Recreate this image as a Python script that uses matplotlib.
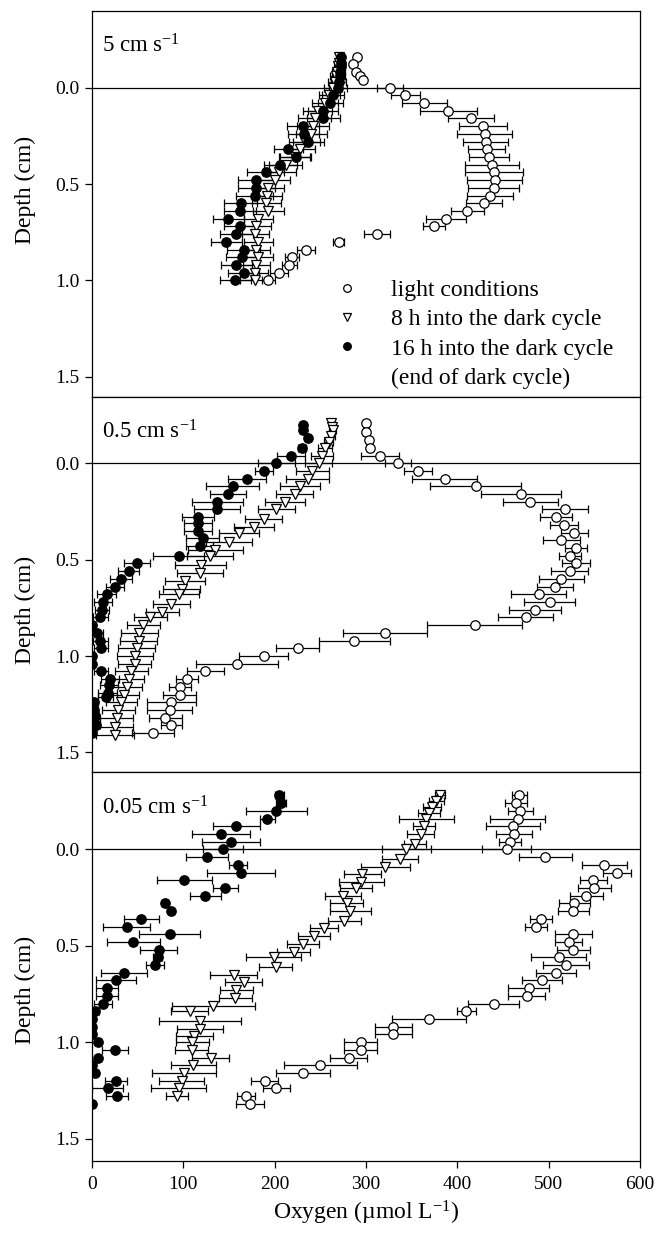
import matplotlib
matplotlib.use("Agg")
import matplotlib.pyplot as plt
from matplotlib.lines import Line2D

plt.rcParams['font.family'] = ['Liberation Serif', 'DejaVu Serif']
plt.rcParams['mathtext.fontset'] = 'custom'
plt.rcParams['mathtext.rm'] = 'Liberation Serif'
plt.rcParams['mathtext.it'] = 'Liberation Serif:italic'

# ---------------- data ----------------
panel_labels = ["5 cm s$^{-1}$", "0.5 cm s$^{-1}$", "0.05 cm s$^{-1}$"]
series_labels = ["light conditions", "8 h into the dark cycle",
                 "16 h into the dark cycle", "(end of dark cycle)"]
x_ticks = [0, 100, 200, 300, 400, 500, 600]
y_ticks = [0.0, 0.5, 1.0, 1.5]
y_ticklabels = ["0.0", "0.5", "1.0", "1.5"]

# Panel 1: 5 cm s-1
p1_light_depth = [-0.16, -0.12, -0.08, -0.06, -0.04, 0.00, 0.04, 0.08, 0.12, 0.16, 0.20, 0.24, 0.28, 0.32,
                  0.36, 0.40, 0.44, 0.48, 0.52, 0.56, 0.60, 0.64, 0.68, 0.72, 0.76, 0.80, 0.84, 0.88,
                  0.92, 0.96, 1.00]
p1_light_o2 = [290, 286, 289, 293, 297, 326, 343, 364, 390, 415, 428, 430, 431, 432,
               435, 438, 440, 441, 440, 436, 429, 411, 388, 374, 312, 270, 234, 219,
               216, 205, 193]
p1_light_err = [2, 2, 2, 2, 2, 14, 16, 25, 31, 25, 26, 30, 25, 20,
                22, 30, 32, 30, 28, 25, 20, 18, 22, 12, 14, 6, 10, 8,
                8, 10, 7]

p1_d8_depth = [-0.16, -0.13, -0.11, -0.08, -0.06, -0.03, 0.00, 0.04, 0.08, 0.12, 0.16, 0.20, 0.24, 0.28,
               0.32, 0.36, 0.40, 0.44, 0.48, 0.52, 0.56, 0.60, 0.64, 0.68, 0.72, 0.76, 0.80, 0.84,
               0.88, 0.92, 0.96, 1.00]
p1_d8_o2 = [270, 270, 269, 268, 267, 266, 264, 260, 255, 247, 244, 242, 240, 233,
            228, 222, 212, 205, 200, 193, 192, 191, 193, 182, 180, 179, 182, 180,
            182, 180, 178, 178]
p1_d8_err = [3, 3, 4, 5, 6, 8, 10, 12, 14, 16, 18, 18, 17, 17,
             16, 17, 18, 18, 17, 17, 16, 16, 17, 16, 16, 15, 16, 15,
             16, 15, 15, 16]

p1_d16_depth = [-0.16, -0.13, -0.11, -0.08, -0.06, -0.03, 0.00, 0.04, 0.08, 0.12, 0.16, 0.20, 0.24, 0.28,
                0.32, 0.36, 0.40, 0.44, 0.48, 0.52, 0.56, 0.60, 0.64, 0.68, 0.72, 0.76, 0.80, 0.84,
                0.88, 0.92, 0.96, 1.00]
p1_d16_o2 = [273, 273, 273, 272, 271, 270, 269, 264, 261, 253, 253, 231, 232, 237,
             215, 223, 206, 190, 180, 180, 178, 163, 162, 149, 162, 158, 147, 166,
             164, 158, 166, 157]
p1_d16_err = [3, 3, 4, 5, 6, 8, 10, 12, 14, 16, 18, 17, 17, 17,
              16, 17, 18, 20, 20, 20, 20, 18, 18, 17, 18, 18, 17, 18,
              17, 17, 17, 17]

# Panel 2: 0.5 cm s-1
p2_light_depth = [-0.21, -0.16, -0.12, -0.08, -0.04, 0.00, 0.04, 0.08, 0.12, 0.16, 0.20, 0.24, 0.28, 0.32,
                  0.36, 0.40, 0.44, 0.48, 0.52, 0.56, 0.60, 0.64, 0.68, 0.72, 0.76, 0.80, 0.84, 0.88,
                  0.92, 0.96, 1.00, 1.04, 1.08, 1.12, 1.16, 1.20, 1.24, 1.28, 1.32, 1.36, 1.40]
p2_light_o2 = [300, 300, 303, 304, 315, 335, 357, 386, 420, 470, 480, 518, 508, 517,
               528, 514, 530, 523, 530, 523, 514, 507, 489, 501, 485, 475, 419, 321,
               287, 225, 188, 159, 124, 104, 96, 96, 87, 85, 80, 87, 67]
p2_light_err = [3, 3, 3, 3, 21, 14, 15, 36, 50, 44, 30, 25, 18, 15,
                15, 20, 12, 12, 15, 20, 25, 20, 30, 28, 28, 30, 52, 46,
                39, 23, 27, 45, 20, 12, 12, 18, 27, 25, 18, 12, 23]

p2_d8_depth = [-0.21, -0.19, -0.17, -0.14, -0.11, -0.08, -0.04, 0.00, 0.04, 0.08, 0.12, 0.16, 0.20, 0.24,
               0.29, 0.33, 0.36, 0.41, 0.45, 0.48, 0.53, 0.57, 0.61, 0.65, 0.68, 0.73, 0.77, 0.80,
               0.84, 0.88, 0.92, 0.96, 1.00, 1.04, 1.08, 1.12, 1.16, 1.20, 1.24, 1.28, 1.32, 1.37, 1.41]
p2_d8_o2 = [262, 263, 264, 262, 259, 255, 252, 248, 241, 236, 228, 222, 211, 202,
            188, 177, 161, 150, 135, 129, 119, 118, 102, 98, 95, 87, 77, 64,
            56, 52, 51, 49, 47, 47, 43, 40, 38, 35, 32, 29, 27, 25, 25]
p2_d8_err = [3, 3, 3, 4, 5, 8, 12, 15, 18, 24, 22, 20, 22, 20,
             20, 22, 22, 25, 30, 25, 28, 25, 22, 20, 22, 20, 18, 18,
             18, 20, 20, 20, 20, 18, 18, 17, 17, 16, 17, 18, 18, 20, 21]

p2_d16_depth = [-0.20, -0.17, -0.13, -0.08, -0.04, 0.00, 0.04, 0.08, 0.12, 0.16, 0.20, 0.24, 0.28, 0.31,
                0.35, 0.39, 0.43, 0.48, 0.52, 0.56, 0.60, 0.64, 0.68, 0.72, 0.76, 0.80, 0.84, 0.88,
                0.92, 0.96, 1.00, 1.04, 1.08, 1.12, 1.15, 1.19, 1.21, 1.24, 1.28, 1.31, 1.36, 1.40]
p2_d16_o2 = [231, 231, 236, 230, 218, 202, 188, 170, 154, 149, 137, 137, 116, 116,
             116, 121, 118, 95, 49, 40, 32, 25, 16, 12, 11, 9, 0, 6,
             9, 10, 0, 0, 10, 20, 19, 17, 15, 2, 2, 3, 4, 0]
p2_d16_err = [3, 3, 3, 4, 15, 20, 10, 21, 29, 20, 28, 25, 18, 15,
              15, 18, 15, 28, 14, 12, 12, 10, 10, 10, 8, 8, 4, 6,
              8, 8, 3, 3, 8, 10, 10, 10, 8, 5, 5, 5, 5, 3]

# Panel 3: 0.05 cm s-1
p3_light_depth = [-0.28, -0.24, -0.20, -0.16, -0.12, -0.08, -0.04, 0.00, 0.04, 0.08, 0.12, 0.16, 0.20, 0.24,
                  0.28, 0.32, 0.36, 0.40, 0.44, 0.48, 0.52, 0.56, 0.60, 0.64, 0.68, 0.72, 0.76, 0.80,
                  0.84, 0.88, 0.92, 0.96, 1.00, 1.04, 1.08, 1.12, 1.16, 1.20, 1.24, 1.28, 1.32]
p3_light_o2 = [468, 464, 469, 466, 461, 462, 458, 454, 496, 561, 575, 549, 550, 541,
               528, 527, 492, 486, 527, 522, 527, 511, 519, 508, 493, 478, 476, 440,
               410, 369, 330, 330, 294, 294, 281, 250, 231, 189, 202, 169, 173]
p3_light_err = [8, 12, 14, 30, 30, 20, 12, 27, 29, 25, 15, 15, 18, 18,
                17, 17, 12, 12, 20, 15, 18, 30, 25, 22, 22, 22, 20, 28,
                10, 40, 20, 20, 18, 18, 20, 40, 30, 15, 15, 10, 15]

p3_d8_depth = [-0.28, -0.25, -0.22, -0.19, -0.16, -0.12, -0.08, -0.03, 0.00, 0.05, 0.09, 0.13, 0.17, 0.20,
               0.24, 0.28, 0.32, 0.37, 0.41, 0.45, 0.49, 0.53, 0.56, 0.61, 0.65, 0.69, 0.73, 0.77,
               0.81, 0.84, 0.89, 0.93, 0.97, 1.00, 1.04, 1.08, 1.12, 1.16, 1.20, 1.24, 1.28]
p3_d8_o2 = [381, 377, 372, 369, 366, 364, 360, 354, 344, 337, 321, 296, 295, 289,
            275, 279, 283, 276, 254, 243, 231, 221, 199, 201, 155, 166, 158, 157,
            133, 107, 118, 118, 112, 110, 109, 130, 111, 101, 98, 95, 93]
p3_d8_err = [5, 8, 10, 12, 30, 12, 15, 12, 27, 20, 27, 20, 25, 18,
             20, 18, 22, 18, 15, 18, 18, 18, 30, 18, 26, 20, 18, 18,
             45, 20, 45, 25, 20, 18, 18, 20, 25, 35, 25, 30, 12]

p3_d16_depth = [-0.28, -0.24, -0.20, -0.16, -0.12, -0.08, -0.04, 0.00, 0.04, 0.08, 0.12, 0.16, 0.20, 0.24,
                0.28, 0.32, 0.36, 0.40, 0.44, 0.48, 0.52, 0.56, 0.60, 0.64, 0.68, 0.72, 0.76, 0.80,
                0.84, 0.88, 0.92, 0.96, 1.00, 1.04, 1.08, 1.12, 1.16, 1.20, 1.24, 1.28, 1.32]
p3_d16_o2 = [205, 207, 202, 192, 158, 141, 152, 143, 126, 160, 163, 101, 146, 124,
             80, 87, 54, 38, 85, 45, 73, 72, 69, 35, 26, 16, 16, 12,
             3, 0.5, 0, 0.5, 7, 25, 7, 0.5, 3, 26, 17, 27, 0.5]
p3_d16_err = [5, 5, 33, 8, 26, 32, 32, 22, 23, 10, 37, 30, 14, 17,
              3, 3, 19, 26, 33, 29, 20, 5, 10, 25, 22, 12, 12, 10,
              5, 3, 3, 3, 3, 14, 3, 3, 3, 12, 17, 12, 3]

panels = [
    dict(light=(p1_light_o2, p1_light_depth, p1_light_err),
         d8=(p1_d8_o2, p1_d8_depth, p1_d8_err),
         d16=(p1_d16_o2, p1_d16_depth, p1_d16_err)),
    dict(light=(p2_light_o2, p2_light_depth, p2_light_err),
         d8=(p2_d8_o2, p2_d8_depth, p2_d8_err),
         d16=(p2_d16_o2, p2_d16_depth, p2_d16_err)),
    dict(light=(p3_light_o2, p3_light_depth, p3_light_err),
         d8=(p3_d8_o2, p3_d8_depth, p3_d8_err),
         d16=(p3_d16_o2, p3_d16_depth, p3_d16_err)),
]

# ---------------- layout ----------------
W, H = 658, 1234
fig = plt.figure(figsize=(W / 100, H / 100), dpi=100)
left_px, right_px = 92, 640
panel_px = [(10.7, 396.7), (396.7, 772.3), (772.3, 1160.7)]
ylims = [(1.603, -0.399), (1.603, -0.345), (1.615, -0.40)]
ylabel_y = [0.5355, 0.432, 0.4395]
label_off_px = 42

TICK_FS = 14
LAB_FS = 17

axes = []
for i, (top, bot) in enumerate(panel_px):
    ax = fig.add_axes([left_px / W, 1 - bot / H, (right_px - left_px) / W, (bot - top) / H])
    axes.append(ax)
    d = panels[i]
    common = dict(ecolor='black', elinewidth=0.9, capsize=3, capthick=0.9,
                  markersize=6.8, markeredgewidth=0.9, markeredgecolor='black')
    o2, dep, err = d['light']
    ax.errorbar(o2, dep, xerr=err, fmt='o', markerfacecolor='white', **common)
    o2, dep, err = d['d8']
    ax.errorbar(o2, dep, xerr=err, fmt='v', markerfacecolor='white', **common)
    o2, dep, err = d['d16']
    ax.errorbar(o2, dep, xerr=err, fmt='o', markerfacecolor='black', **common)

    ax.axhline(0, color='black', lw=0.9, zorder=0.5)
    ax.set_xlim(0, 600)
    ax.set_ylim(*ylims[i])
    ax.set_yticks(y_ticks)
    ax.set_yticklabels(y_ticklabels, fontsize=TICK_FS)
    ax.tick_params(axis='y', direction='out', length=5, width=0.9, pad=4)
    ax.set_ylabel("Depth (cm)", fontsize=LAB_FS)
    ax.yaxis.set_label_coords(-0.103, ylabel_y[i])
    for s in ax.spines.values():
        s.set_linewidth(0.9)
    if i < 2:
        ax.set_xticks([])
    else:
        ax.set_xticks(x_ticks)
        ax.set_xticklabels([str(t) for t in x_ticks], fontsize=TICK_FS)
        ax.tick_params(axis='x', direction='out', length=5, width=0.9, pad=6)
        ax.set_xlabel("Oxygen (\u00b5mol L$^{-1}$)", fontsize=LAB_FS, labelpad=4)
    hpx = bot - top
    ax.text(10 / (right_px - left_px), 1 - label_off_px / hpx, panel_labels[i],
            transform=ax.transAxes, fontsize=16.5, ha='left', va='baseline')

# legend in panel 1
handles = [
    Line2D([], [], marker='o', linestyle='none', markerfacecolor='white', markeredgecolor='black', markersize=5.5, markeredgewidth=0.9),
    Line2D([], [], marker='v', linestyle='none', markerfacecolor='white', markeredgecolor='black', markersize=5.5, markeredgewidth=0.9),
    Line2D([], [], marker='o', linestyle='none', markerfacecolor='black', markeredgecolor='black', markersize=5.5, markeredgewidth=0.9),
    Line2D([], [], linestyle='none'),
]
axes[0].legend(handles, series_labels, loc='upper left', bbox_to_anchor=(0.433, 0.3036),
               frameon=False, fontsize=LAB_FS, handlelength=1.5, handletextpad=1.1,
               labelspacing=0.33, borderpad=0, borderaxespad=0)

fig.savefig("out.png", dpi=100)
